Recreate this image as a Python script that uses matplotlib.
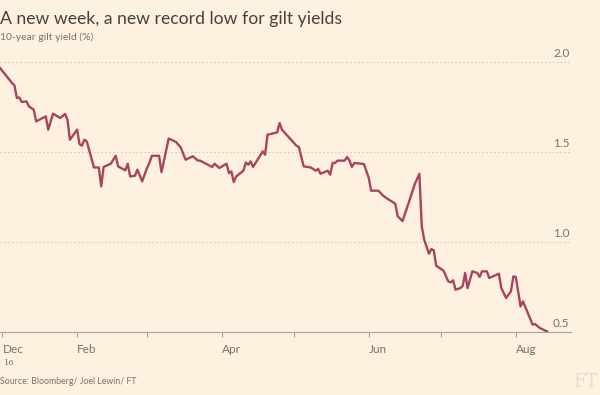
import matplotlib
matplotlib.use("Agg")
import matplotlib.pyplot as plt
import matplotlib.dates as mdates
import numpy as np

# 10-year gilt yield
dates = [
    "2015-12-31", "2016-01-05", "2016-01-06", "2016-01-07", "2016-01-08", "2016-01-09",
    "2016-01-11", "2016-01-12", "2016-01-14", "2016-01-15", "2016-01-19", "2016-01-20",
    "2016-01-22", "2016-01-25", "2016-01-27", "2016-01-28", "2016-01-29", "2016-02-01",
    "2016-02-02", "2016-02-03", "2016-02-04", "2016-02-05", "2016-02-08", "2016-02-10",
    "2016-02-11", "2016-02-12", "2016-02-15", "2016-02-17", "2016-02-18", "2016-02-21",
    "2016-02-22", "2016-02-23", "2016-02-25", "2016-02-26", "2016-02-28", "2016-03-01",
    "2016-03-02", "2016-03-03", "2016-03-06", "2016-03-07", "2016-03-10", "2016-03-13",
    "2016-03-15", "2016-03-17", "2016-03-20", "2016-03-22", "2016-03-23", "2016-03-28",
    "2016-03-29", "2016-03-31", "2016-04-03", "2016-04-04", "2016-04-05", "2016-04-06",
    "2016-04-07", "2016-04-10", "2016-04-11", "2016-04-12", "2016-04-13", "2016-04-14",
    "2016-04-18", "2016-04-19", "2016-04-20", "2016-04-24", "2016-04-25", "2016-04-26",
    "2016-05-02", "2016-05-03", "2016-05-05", "2016-05-08", "2016-05-10", "2016-05-11",
    "2016-05-12", "2016-05-15", "2016-05-16", "2016-05-17", "2016-05-18", "2016-05-19",
    "2016-05-22", "2016-05-23", "2016-05-24", "2016-05-25", "2016-05-26", "2016-05-30",
    "2016-06-01", "2016-06-02", "2016-06-05", "2016-06-07", "2016-06-09", "2016-06-12",
    "2016-06-13", "2016-06-15", "2016-06-18", "2016-06-20", "2016-06-22", "2016-06-23",
    "2016-06-24", "2016-06-26", "2016-06-27", "2016-06-28", "2016-06-29", "2016-07-02",
    "2016-07-04", "2016-07-05", "2016-07-06", "2016-07-07", "2016-07-09", "2016-07-10",
    "2016-07-11", "2016-07-12", "2016-07-14", "2016-07-16", "2016-07-17", "2016-07-18",
    "2016-07-20", "2016-07-21", "2016-07-25", "2016-07-26", "2016-07-28", "2016-07-30",
    "2016-07-31", "2016-08-01", "2016-08-03", "2016-08-04", "2016-08-06", "2016-08-08",
    "2016-08-09", "2016-08-11", "2016-08-14",
]
yields = [
    1.967, 1.883, 1.870, 1.800, 1.803, 1.778,
    1.781, 1.753, 1.735, 1.670, 1.698, 1.624,
    1.713, 1.689, 1.711, 1.679, 1.568, 1.624,
    1.544, 1.535, 1.568, 1.559, 1.414, 1.414,
    1.309, 1.417, 1.435, 1.479, 1.420, 1.398,
    1.435, 1.364, 1.368, 1.402, 1.337, 1.411,
    1.439, 1.479, 1.479, 1.388, 1.575, 1.556,
    1.525, 1.457, 1.476, 1.453, 1.452, 1.417,
    1.435, 1.411, 1.435, 1.383, 1.392, 1.333,
    1.364, 1.396, 1.442, 1.429, 1.448, 1.417,
    1.503, 1.485, 1.596, 1.609, 1.661, 1.624,
    1.535, 1.528, 1.420, 1.414, 1.396, 1.406,
    1.379, 1.396, 1.374, 1.439, 1.439, 1.452,
    1.452, 1.472, 1.453, 1.417, 1.439, 1.433,
    1.356, 1.285, 1.285, 1.257, 1.238, 1.213,
    1.143, 1.116, 1.235, 1.318, 1.379, 1.087,
    1.013, 0.935, 0.961, 0.953, 0.868, 0.841,
    0.781, 0.776, 0.787, 0.735, 0.744, 0.757,
    0.828, 0.744, 0.837, 0.828, 0.806, 0.837,
    0.837, 0.800, 0.824, 0.744, 0.689, 0.726,
    0.809, 0.806, 0.642, 0.670, 0.606, 0.541,
    0.544, 0.522, 0.503,
]

tick_dates = ["2016-01-01", "2016-02-01", "2016-03-01", "2016-04-01",
              "2016-05-01", "2016-06-01", "2016-07-01", "2016-08-01"]
tick_labels = ["Dec", "Feb", "", "Apr", "", "Jun", "", "Aug"]
y_ticks = [1.0, 1.5, 2.0]
y_labels = ["1.0", "1.5", "2.0"]

bg = "#fff1e0"
grey = "#74736c"
line_col = "#a8445f"
font = "Lato"

x = mdates.datestr2num(dates)
xt = mdates.datestr2num(tick_dates)

fig = plt.figure(figsize=(6, 3.95), dpi=100, facecolor=bg)
ax = fig.add_axes([0.0, 0.1595, 0.952, 0.7063], facecolor=bg)

ax.plot(x, yields, color=line_col, lw=1.7, solid_joinstyle="round", zorder=3)

x0 = mdates.datestr2num("2015-12-31")
ax.set_xlim(x0, x0 + 237)
ax.set_ylim(0.5, 2.05)

for s in ["top", "right", "left"]:
    ax.spines[s].set_visible(False)
ax.spines["bottom"].set_color("#a7a59b")
ax.spines["bottom"].set_linewidth(0.8)

# dotted grid with labels sitting on top of the lines at the right
for yv, lab in zip(y_ticks, y_labels):
    ax.axhline(yv, color="#cfc6b9", lw=0.7, ls=(0, (1.5, 2.5)), zorder=1)
    ax.text(0.997, yv + 0.015, lab, transform=ax.get_yaxis_transform(),
            ha="right", va="bottom", fontsize=8.5, color=grey, family=font)
ax.text(0.997, 0.5 + 0.015, "0.5", transform=ax.get_yaxis_transform(),
        ha="right", va="bottom", fontsize=8.5, color=grey, family=font)
ax.set_yticks([])

ax.set_xticks(xt)
ax.set_xticklabels(tick_labels)
ax.tick_params(axis="x", direction="out", length=3.5, width=0.8, color="#a7a59b",
               labelsize=8.5, labelcolor=grey, pad=5)
for t in ax.get_xticklabels():
    t.set_horizontalalignment("left")
    t.set_family(font)

fig.text(0.006, 0.076, "16", fontsize=6, color=grey, family="DejaVu Serif")

fig.text(0.0, 0.972, "A new week, a new record low for gilt yields",
         fontsize=12.7, color="#43423e", family=font, va="top")
fig.text(0.0, 0.917, "10-year gilt yield (%)", fontsize=7.5, color=grey,
         family=font, va="top")
fig.text(0.0, 0.022, "Source: Bloomberg/ Joel Lewin/ FT", fontsize=6.3,
         color=grey, family=font, va="bottom")
fig.text(0.995, 0.01, "FT", fontsize=13, color="#e6dccd", family="DejaVu Serif",
         ha="right", va="bottom")

fig.savefig("out.png", dpi=100, facecolor=bg)
